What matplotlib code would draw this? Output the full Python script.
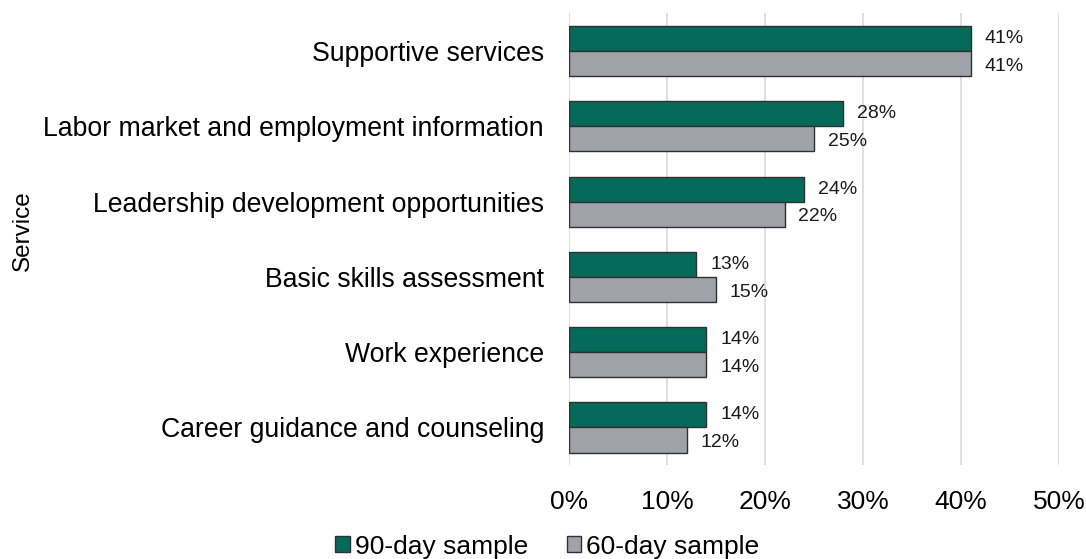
import matplotlib
matplotlib.use("Agg")
import matplotlib.pyplot as plt
import numpy as np
from matplotlib.patches import Patch

plt.rcParams['font.family'] = ['Liberation Sans', 'DejaVu Sans']

categories = ["Supportive services", "Labor market and employment information",
              "Leadership development opportunities", "Basic skills assessment",
              "Work experience", "Career guidance and counseling"]
sample_90 = [41, 28, 24, 13, 14, 14]
sample_60 = [41, 25, 22, 15, 14, 12]
series_names = ["90-day sample", "60-day sample"]
xticks = [0, 10, 20, 30, 40, 50]

green = "#066A5A"
gray = "#A0A2A9"
edge = "#303030"

fig = plt.figure(figsize=(10.86, 5.59), dpi=100)
ax = fig.add_axes([0.524, 0.168, 0.451, 0.808])

n = len(categories)
y = np.arange(n)
h = 0.333
ax.barh(y - h/2, sample_90, height=h, color=green, edgecolor=edge, linewidth=1.0, zorder=3)
ax.barh(y + h/2, sample_60, height=h, color=gray, edgecolor=edge, linewidth=1.0, zorder=3)

for i in range(n):
    ax.annotate(f"{sample_90[i]}%", (sample_90[i], y[i] - h/2), xytext=(10, 0),
                textcoords="offset points", va="center", ha="left", fontsize=14, color="#1a1a1a")
    ax.annotate(f"{sample_60[i]}%", (sample_60[i], y[i] + h/2), xytext=(10, -2),
                textcoords="offset points", va="center", ha="left", fontsize=14, color="#1a1a1a")

ax.set_ylim(n - 0.5, -0.5)
ax.set_xlim(0, 50)
ax.set_xticks(xticks)
ax.set_xticklabels([f"{t}%" for t in xticks], fontsize=19)
ax.set_yticks(y)
ax.set_yticklabels(categories, fontsize=19.2)
ax.tick_params(axis='both', length=0)
ax.tick_params(axis='x', pad=18)
ax.tick_params(axis='y', pad=18)
ax.grid(axis='x', color="#D9D9D9", linewidth=1.2, zorder=0)
for s in ax.spines.values():
    s.set_visible(False)
fig.text(0.021, 0.587, "Service", rotation=90, va="center", ha="center", fontsize=17.5)

handles = [Patch(facecolor=green, edgecolor=edge), Patch(facecolor=gray, edgecolor=edge)]
fig.legend(handles, series_names, loc="center", bbox_to_anchor=(0.504, 0.022), ncol=2, frameon=False,
           fontsize=19, handlelength=0.55, handleheight=0.55, handletextpad=0.2, columnspacing=1.45,
           borderpad=0.0)

fig.savefig("out.png", dpi=100)
